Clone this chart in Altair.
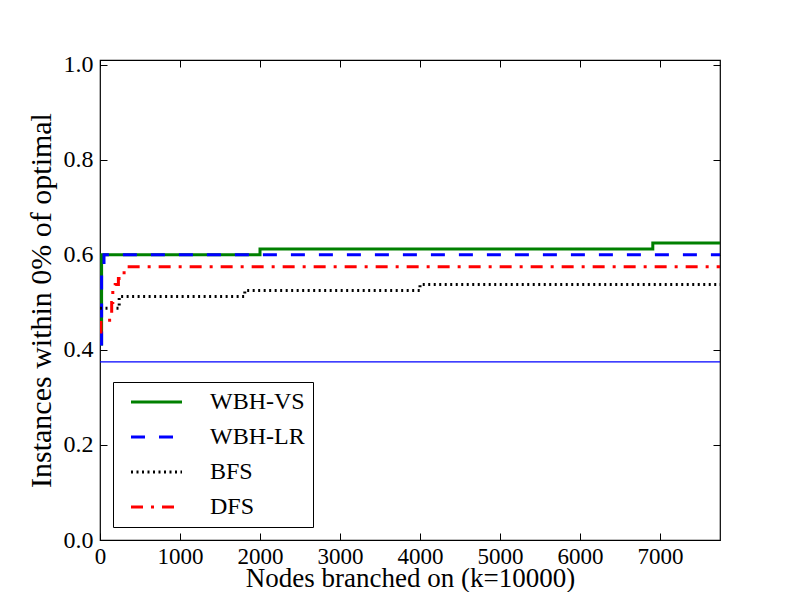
import altair as alt
import pandas as pd

series = ["WBH-VS", "WBH-LR", "BFS", "DFS"]
colors = ["#008000", "#0000ff", "#000000", "#ff0000"]
dashes = [[1, 0], [14, 14], [2, 3.5], [12, 8, 3, 8]]
widths = [3, 3, 2, 3]

vs_x = [0, 20, 2000, 6910, 7750]
vs_y = [0.4125, 0.6, 0.6125, 0.625, 0.625]
lr_x = [0, 20, 50, 7750]
lr_y = [0.4125, 0.575, 0.6, 0.6]
bfs_x = [0, 240, 1810, 4000, 7750]
bfs_y = [0.4875, 0.5125, 0.525, 0.5375, 0.5375]
dfs_x = [0, 12, 146, 160, 190, 230, 280, 340, 7750]
dfs_y = [0.4375, 0.4625, 0.5, 0.525, 0.5375, 0.55, 0.5625, 0.575, 0.575]
root_x = [0, 7750]
root_y = [0.375, 0.375]

x_domain = [0, 7750]
y_domain = [0, 1.01]
x_ticks = [0, 1000, 2000, 3000, 4000, 5000, 6000, 7000]
y_ticks = [0.0, 0.2, 0.4, 0.6, 0.8, 1.0]

rows = []
for name, xs, ys in [("WBH-VS", vs_x, vs_y), ("WBH-LR", lr_x, lr_y),
                     ("BFS", bfs_x, bfs_y), ("DFS", dfs_x, dfs_y)]:
    for i, (a, b) in enumerate(zip(xs, ys)):
        rows.append({"series": name, "x": a, "y": b, "i": i})
df = pd.DataFrame(rows)
root_df = pd.DataFrame({"x": root_x, "y": root_y})

FONT = "Liberation Serif"
TICK = 7

xs = alt.Scale(domain=x_domain, nice=False, zero=False)
ys = alt.Scale(domain=y_domain, nice=False, zero=False)

lines = alt.Chart(df).mark_line(interpolate="step-after", clip=True).encode(
    x=alt.X("x:Q", scale=xs, axis=alt.Axis(
        values=x_ticks, format="d", orient="bottom", offset=-TICK, tickSize=TICK,
        domain=False, labelPadding=5, labelFlush=False, labelFontSize=23,
        title="Nodes branched on (k=10000)", titleFontSize=27,
        titleBaseline="alphabetic", titleY=53, grid=False)),
    y=alt.Y("y:Q", scale=ys, axis=alt.Axis(
        values=y_ticks, format=".1f", orient="left", offset=-TICK, tickSize=TICK,
        domain=False, labelPadding=7, labelFlush=False, labelFontSize=24,
        title="Instances within 0% of optimal", titleFontSize=30,
        titlePadding=7, grid=False)),
    color=alt.Color("series:N", scale=alt.Scale(domain=series, range=colors),
                    legend=alt.Legend(title=None)),
    strokeDash=alt.StrokeDash("series:N", scale=alt.Scale(domain=series, range=dashes),
                              legend=alt.Legend(title=None)),
    strokeWidth=alt.StrokeWidth("series:N", scale=alt.Scale(domain=series, range=widths),
                                legend=None),
    order="i:Q",
)

root = alt.Chart(root_df).mark_line(color="#0000ff", strokeWidth=1.2, clip=True).encode(
    x=alt.X("x:Q", scale=xs, axis=alt.Axis(
        values=x_ticks, orient="top", offset=-TICK, tickSize=TICK, domain=False,
        labels=False, title=None, grid=False)),
    y=alt.Y("y:Q", scale=ys, axis=alt.Axis(
        values=y_ticks, orient="right", offset=-TICK, tickSize=TICK, domain=False,
        labels=False, title=None, grid=False)),
)

chart = alt.layer(lines, root).resolve_axis(x="independent", y="independent").properties(
    width=620, height=480,
    autosize=alt.AutoSizeParams(type="none"),
    padding={"left": 92, "top": 52, "right": 60, "bottom": 52},
).configure_view(stroke="black", strokeWidth=1.2).configure_axis(
    labelFont=FONT, labelColor="black",
    titleFont=FONT, titleFontWeight="normal", titleColor="black",
    tickColor="black", tickWidth=1,
).configure_legend(
    orient="none", legendX=13, legendY=322,
    strokeColor="black", fillColor="white", padding=8, cornerRadius=0,
    symbolType="M-0.2,0H4.9", symbolSize=400, symbolStrokeWidth=3,
    labelFont=FONT, labelFontSize=24, labelColor="black", labelOffset=65,
    labelLimit=0, rowPadding=11,
)

chart.save("out.html", embed_options={"renderer": "svg", "actions": False})
